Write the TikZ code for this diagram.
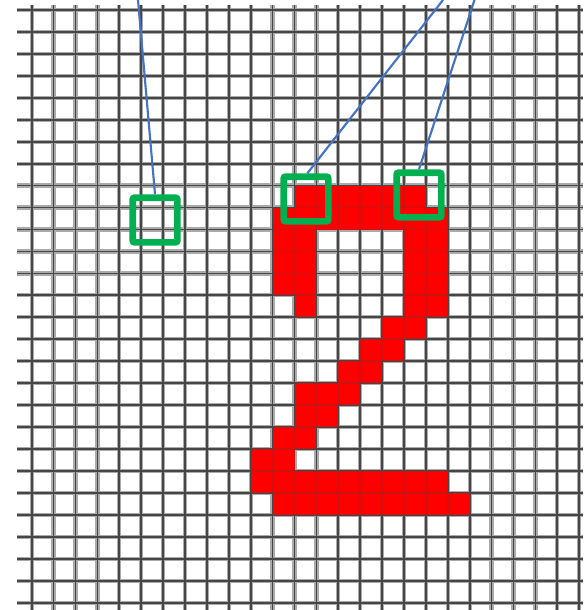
\documentclass[tikz,border=0pt]{standalone}
\definecolor{gridcore}{RGB}{70,70,70}
\definecolor{gridhalo}{RGB}{170,170,170}
\definecolor{digitred}{RGB}{255,0,0}
\definecolor{boxgreen}{RGB}{0,176,80}
\definecolor{leaderblue}{RGB}{68,114,196}
\tikzset{
  gridhalo/.style={draw=gridhalo, line width=3.2pt},
  gridcore/.style={draw=gridcore, line width=1.3pt},
  pixel/.style={fill=digitred},
  markbox/.style={draw=boxgreen, line width=5pt, minimum size=33.5pt, inner sep=0pt, rounded corners=1.5pt},
  leader/.style={draw=leaderblue, line width=1.6pt}
}
\begin{document}
\begin{tikzpicture}[x=0.75pt,y=-0.75pt]
\useasboundingbox (0,0) rectangle (583,610);
\fill[white] (0,0) rectangle (583,610);
% grid halo
\foreach \k in {0,...,25} \draw[gridhalo] (31.7+21.9*\k,5) -- (31.7+21.9*\k,610);
\foreach \j in {0,...,27} \draw[gridhalo] (17,10+21.95*\j) -- (583,10+21.95*\j);
\foreach \k in {0,...,25} \draw[gridcore] (31.7+21.9*\k,5) -- (31.7+21.9*\k,610);
\foreach \j in {0,...,27} \draw[gridcore] (17,10+21.95*\j) -- (583,10+21.95*\j);
% red pixels of the digit: row/column lists
\foreach \r/\cols in {8/{12,13,14,15,16,17},
                      9/{11,12,13,14,15,16,17,18},
                      10/{11,12,17,18},
                      11/{11,12,17,18},
                      12/{11,12,17,18},
                      13/{12,17,18},
                      14/{16,17},
                      15/{15,16},
                      16/{14,15},
                      17/{12,13,14},
                      18/{12,13},
                      19/{11,12},
                      20/{10,11},
                      21/{10,11,12,13,14,15,16,17,18},
                      22/{11,12,13,14,15,16,17,18,19}}
  \foreach \c in \cols
    \fill[pixel] (31.7+21.9*\c,10+21.95*\r) rectangle ++(21.9,21.95);
% faint grid over red
\foreach \k in {10,...,20} \draw[gridcore, opacity=0.25] (31.7+21.9*\k,186) -- (31.7+21.9*\k,515);
\foreach \j in {8,...,23} \draw[gridcore, opacity=0.25] (250,10+21.95*\j) -- (470,10+21.95*\j);
% green boxes
\node[markbox] (boxA) at (155,220) {};
\node[markbox] (boxB) at (306,199) {};
\node[markbox] (boxC) at (419,195) {};
% leader ends above
\coordinate (topA) at (138,0);
\coordinate (topB) at (443,0);
\coordinate (topC) at (474.5,0);
\draw[leader] (boxA.north) -- (topA);
\draw[leader] ([xshift=1pt]boxB.north) -- (topB);
\draw[leader] (boxC.north) -- (topC);
\end{tikzpicture}
\end{document}
